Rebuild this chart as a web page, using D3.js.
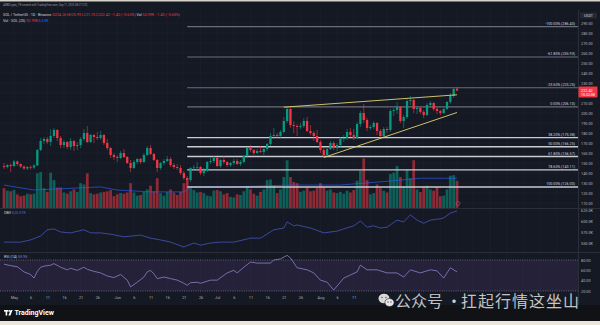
<!DOCTYPE html>
<html><head><meta charset="utf-8">
<script src="https://cdn.jsdelivr.net/npm/d3@7"></script>
<style>html,body{margin:0;padding:0;background:#141823;overflow:hidden}svg{display:block}</style>
</head><body><svg id="c" width="600" height="325"></svg>
<script>
// ---------- DATA ----------
const startDate = "2025-04-28";
const open  = [147,146,148,147,151.5,149,146.5,144.5,146,145.5,147.5,163,172,174,171,177,183,175,168,171,166,172,167,168,174,180,171,178,176,175,178,170,165,158,156,155,160,156,150,145,151,154,151,158,165,159,153,145,150,152,154,148,146,145,140,135,133,145,145.5,146,140,142,151,152,155,147,153,151,148,150,152,149,151,157,165,163,160,162,161,164,169,177,178,177,181,192,204,188,187,186,187,192,182,180,177,171,163,158,164,170,165,168,174,175,181,178,175,189,200,193,185,186,190,182,177,184,183,202,203,206,192,196,212,213,204,205,201,198,208,210,204,202,200,204,211,217,224.26];
const high  = [150,149,149.5,153,152.5,149.5,147.5,147,147.5,149,164,175,176,176,184,185,184,177,173,172,175,173,171,176,184,187,179,179,181,182,179,174,166,160,158,162,164,157,153,153,155,155,160,167,168,160,154,151,154,157,156,150,149,148,142,137,146,148,151,147,145,152,155,157,156,154,157,152,151,154,154,153,158,166,168,164,164,167,166,170,180,185,180,183,196,206,205,192,189,190,195,196,188,182,183,173,166,166,172,172,170,176,178,184,185,184,191,202,209,195,188,192,191,184,186,186,204,205,211,207,198,214,217,214,207,206,203,210,212,211,206,203,205,212,220,226,225.99];
const low   = [144,144.5,141,146,147,145,143,143,143.5,144,147,162,169,169,167,175,172,165,165,164,163,162,163,165,172,170,170,170,173,173,168,163,155,153,151,154,155,149,141,144,149,149,150,157,158,152,141,143,148,151,146,144,143,138,133,126,131,142,143,138,137,141,149,150,146,145,149,146,146,148,148,147,150,155,161,158,159,160,158,162,167,174,175,175,180,190,185,180,177,184,185,181,178,172,170,160,156,157,163,163,162,166,171,173,176,173,174,186,190,182,183,184,178,175,176,180,181,197,199,190,185,194,208,200,199,199,195,197,205,202,199,198,199,203,209,215,221.73];
const close = [146,148,147,151.5,149,146.5,144.5,146,145.5,147.5,163,172,174,171,177,183,175,168,171,166,172,167,168,174,180,171,178,176,175,178,170,165,158,156,155,160,156,150,145,151,154,151,158,165,159,153,145,150,152,154,148,146,145,140,135,133,145,145.5,146,140,142,151,152,155,147,153,151,148,150,152,149,151,157,165,163,160,162,161,164,169,177,178,177,181,192,204,188,187,186,187,192,182,180,177,171,163,158,164,170,165,168,174,175,181,178,175,189,200,193,185,186,190,182,177,184,183,202,203,206,192,196,212,213,204,205,201,198,208,210,204,202,200,204,211,217,224,222.42];
const volume = [3.2,2.8,2.7,2.9,2.2,1.9,2.0,2.3,2.2,2.3,5.6,5.8,3.2,2.6,5.7,4.5,3.3,3.3,2.5,2.3,2.7,3.0,2.6,4.0,3.8,5.6,2.4,2.2,2.3,2.5,2.6,2.7,2.9,1.9,2.2,2.4,2.3,2.5,4.0,2.5,2.0,2.1,2.6,3.0,3.6,2.7,4.8,2.4,2.0,2.6,3.0,2.5,2.1,2.6,4.0,4.5,3.2,2.9,2.5,2.6,2.4,2.0,1.9,2.8,2.9,2.7,2.2,2.4,1.8,1.7,2.2,2.1,2.7,3.5,3.0,2.3,2.0,2.6,3.0,4.5,4.6,3.6,2.4,3.0,5.0,7.7,5.0,4.2,4.0,2.6,2.8,3.3,2.7,2.8,3.2,4.0,3.4,2.8,3.0,2.5,2.4,2.6,2.3,2.8,2.5,2.9,4.4,6.0,8.0,4.5,2.2,2.4,3.8,3.2,2.8,2.5,5.5,5.7,6.8,5.0,3.5,6.2,4.8,7.7,3.0,2.6,3.4,3.6,3.0,2.8,3.4,1.9,2.0,3.0,5.2,5.3,4.4];
const volMADates  = ["2025-04-28","2025-05-07","2025-05-27","2025-06-01","2025-06-11","2025-06-21","2025-06-23","2025-07-05","2025-07-23","2025-08-07","2025-08-22","2025-08-31","2025-09-11"];
const volMAValues = [3.7,2.9,3.4,2.9,2.6,2.6,3.4,3.4,3.7,3.7,4.35,4.8,4.8];
const obvDates  = ["2025-04-28","2025-05-03","2025-05-06","2025-05-09","2025-05-11","2025-05-13","2025-05-15","2025-05-18","2025-05-22","2025-05-24","2025-05-27","2025-05-30","2025-06-03","2025-06-08","2025-06-11","2025-06-14","2025-06-17","2025-06-21","2025-06-24","2025-06-26","2025-06-29","2025-07-02","2025-07-06","2025-07-11","2025-07-14","2025-07-18","2025-07-21","2025-07-22","2025-07-24","2025-07-25","2025-07-29","2025-08-02","2025-08-06","2025-08-08","2025-08-11","2025-08-13","2025-08-15","2025-08-17","2025-08-19","2025-08-21","2025-08-24","2025-08-26","2025-08-28","2025-08-30","2025-09-01","2025-09-03","2025-09-06","2025-09-07","2025-09-09","2025-09-11"];
const obvValues = [552,552,557,566,580,582,575,573,580,573,573,570,564,568,561,557,552,541,550,545,550,552,552,561,561,580,584,598,589,591,584,573,577,582,589,600,586,589,584,586,602,598,614,602,595,602,605,607,618,623];
const rsiDates  = ["2025-04-28","2025-04-30","2025-05-02","2025-05-04","2025-05-06","2025-05-07","2025-05-08","2025-05-09","2025-05-10","2025-05-12","2025-05-13","2025-05-15","2025-05-17","2025-05-18","2025-05-20","2025-05-22","2025-05-23","2025-05-25","2025-05-27","2025-05-29","2025-05-31","2025-06-02","2025-06-04","2025-06-05","2025-06-07","2025-06-09","2025-06-10","2025-06-11","2025-06-12","2025-06-13","2025-06-15","2025-06-17","2025-06-19","2025-06-21","2025-06-22","2025-06-23","2025-06-25","2025-06-26","2025-06-29","2025-07-01","2025-07-04","2025-07-06","2025-07-07","2025-07-09","2025-07-11","2025-07-13","2025-07-17","2025-07-18","2025-07-20","2025-07-22","2025-07-23","2025-07-25","2025-07-28","2025-07-30","2025-08-01","2025-08-03","2025-08-05","2025-08-08","2025-08-10","2025-08-12","2025-08-13","2025-08-15","2025-08-18","2025-08-21","2025-08-24","2025-08-26","2025-08-28","2025-08-31","2025-09-03","2025-09-05","2025-09-07","2025-09-09","2025-09-11"];
const rsiValues = [72,69,67,57,52,45,58,66,68,70,73,66,61,64,60,66,62,58,55,49,46,52,41,28,37,47,57,60,53,44,47,44,41,35,31,36,37,35,41,41,55,60,55,66,76,74,74,80,82,89,84,65,61,55,41,37,22,45,51,57,70,61,61,55,55,47,61,55,61,59,45,65,57];
const fibRatios = ["-100.00%","-61.80%","-23.60%","0.00%","38.20%","50.00%","61.80%","78.60%","100.00%"];
const fibPrices = [286.40,255.93,225.25,206.10,175.38,166.25,156.57,143.11,126.00];
const fibStart = "2025-06-22";
const trendFrom = [["2025-07-21",205.8],["2025-08-02",155.5]];
const trendTo   = [["2025-09-11",218.2],["2025-09-11",200.5]];
// price grid levels and the labels visible on the price scale (220 sits under the last-price tag)
const gridPrices = [110,120,130,140,150,160,170,180,190,200,210,220,230,240,250,260,270,280,290];
const priceTicks = [110,120,130,140,150,160,170,180,190,200,210,230,240,250,260,270,280,290];
const obvTicks = [625,600,575,550];
const obvTickLabels = ["625.0K","600.0K","575.0K","550.0K"];
const rsiTicks = [80,60,40,20];
const gridDates = ["2025-05-01","2025-05-06","2025-05-11","2025-05-16","2025-05-21","2025-05-26","2025-06-01","2025-06-06","2025-06-11","2025-06-16","2025-06-21","2025-06-26","2025-07-01","2025-07-06","2025-07-11","2025-07-16","2025-07-21","2025-07-26","2025-08-01","2025-08-06","2025-08-11","2025-08-16","2025-08-21","2025-08-26","2025-09-01","2025-09-06","2025-09-11","2025-09-16","2025-09-21","2025-09-26","2025-10-01","2025-10-06","2025-10-11"];
const timeTickDates = ["2025-05-01","2025-05-06","2025-05-11","2025-05-16","2025-05-21","2025-05-26","2025-06-01","2025-06-06","2025-06-11","2025-06-16","2025-06-21","2025-06-26","2025-07-01","2025-07-06","2025-07-11","2025-07-16","2025-07-21","2025-07-26","2025-08-01","2025-08-06","2025-08-11"];
const timeTickLabels = ["May","6","11","16","21","26","Jun","6","11","16","21","26","Jul","6","11","16","21","26","Aug","6","11"];
const lastPrice = 222.42;

// ---------- DRAW ----------
const FONT = "Roboto, 'DejaVu Sans', sans-serif";
const svg = d3.select("#c");
const parse = d3.utcParse("%Y-%m-%d");
const t0 = parse(startDate);
const dates = open.map((_, i) => d3.utcDay.offset(t0, i));
const plotR = 578;

const x = d3.scaleUtc().domain([parse("2025-05-01"), parse("2025-09-11")]).range([14, 457]);
const yP = d3.scaleLinear().domain([110, 290]).range([203, 23]);
const yVol = d3.scaleLinear().domain([0, 10]).range([208, 146]);
const yObv = d3.scaleLinear().domain([550, 625]).range([243, 210]);
const yRsi = d3.scaleLinear().domain([20, 80]).range([291, 260]);

const UP = "#089981", DN = "#f23645";

// backgrounds
svg.append("rect").attr("width", 600).attr("height", 325).attr("fill", "#151924");
svg.append("rect").attr("y", 0).attr("width", 600).attr("height", 1.5).attr("fill", "#d6d2ca");
svg.append("rect").attr("y", 305).attr("width", 600).attr("height", 16).attr("fill", "#111215");
svg.append("rect").attr("y", 321).attr("width", 600).attr("height", 4).attr("fill", "#ebe5da");

const defs = svg.append("defs");
defs.append("clipPath").attr("id", "cp").append("rect").attr("x", 0).attr("y", 10).attr("width", plotR).attr("height", 198);
defs.append("clipPath").attr("id", "co").append("rect").attr("x", 0).attr("y", 209).attr("width", plotR).attr("height", 43);
defs.append("clipPath").attr("id", "cr").append("rect").attr("x", 0).attr("y", 253).attr("width", plotR).attr("height", 42);

// grid
const grid = svg.append("g").attr("stroke", "#1d2130").attr("stroke-width", 0.6);
gridDates.forEach(d => {
  const xx = x(parse(d));
  if (xx < plotR) grid.append("line").attr("x1", xx).attr("x2", xx).attr("y1", 10).attr("y2", 295);
});
gridPrices.forEach(p => grid.append("line").attr("x1", 0).attr("x2", plotR).attr("y1", yP(p)).attr("y2", yP(p)));

// pane separators
svg.append("line").attr("x1", 0).attr("x2", 600).attr("y1", 208.5).attr("y2", 208.5).attr("stroke", "#2a2e39").attr("stroke-width", 1);
svg.append("line").attr("x1", 0).attr("x2", 600).attr("y1", 252.5).attr("y2", 252.5).attr("stroke", "#2a2e39").attr("stroke-width", 1);
svg.append("line").attr("x1", plotR + 0.5).attr("x2", plotR + 0.5).attr("y1", 10).attr("y2", 305).attr("stroke", "#2a2e39").attr("stroke-width", 1);

// price pane
const gp = svg.append("g").attr("clip-path", "url(#cp)");
gp.append("g").selectAll("rect").data(dates).join("rect")
  .attr("x", d => x(d) - 1.4).attr("width", 2.8)
  .attr("y", (d, i) => yVol(volume[i])).attr("height", (d, i) => yVol(0) - yVol(volume[i]))
  .attr("fill", (d, i) => close[i] >= open[i] ? UP : DN).attr("opacity", 0.55);
gp.append("path").datum(volMADates.map((d, i) => [parse(d), volMAValues[i]]))
  .attr("d", d3.line().x(d => x(d[0])).y(d => yVol(d[1])))
  .attr("fill", "none").attr("stroke", "#2962ff").attr("stroke-width", 0.8).attr("opacity", 0.8);

// fib lines
const fx0 = x(parse(fibStart));
fibPrices.forEach((p, i) => {
  const lower = i >= 4;
  gp.append("line").attr("x1", fx0).attr("x2", plotR).attr("y1", yP(p)).attr("y2", yP(p))
    .attr("stroke", lower ? "#c9cbd1" : "#6b6e79").attr("stroke-width", lower ? 1.4 : 1.1);
  gp.append("text").attr("x", 575).attr("y", yP(p) - 1.8).attr("text-anchor", "end")
    .attr("font-family", FONT).attr("font-size", 3.7).attr("fill", "#d1d4dc")
    .text(fibRatios[i] + " (" + d3.format(".2f")(p) + ")");
});

// candles
const gc = gp.append("g");
dates.forEach((d, i) => {
  const col = close[i] >= open[i] ? UP : DN;
  const xx = x(d);
  gc.append("line").attr("x1", xx).attr("x2", xx).attr("y1", yP(high[i])).attr("y2", yP(low[i]))
    .attr("stroke", col).attr("stroke-width", 0.6);
  const top = yP(Math.max(open[i], close[i]));
  const h = Math.max(0.7, Math.abs(yP(open[i]) - yP(close[i])));
  gc.append("rect").attr("x", xx - 1.15).attr("width", 2.3).attr("y", top).attr("height", h).attr("fill", col);
});

// trendlines
trendFrom.forEach((a, i) => {
  const b = trendTo[i];
  gp.append("line").attr("x1", x(parse(a[0]))).attr("y1", yP(a[1]))
    .attr("x2", x(parse(b[0]))).attr("y2", yP(b[1]))
    .attr("stroke", "#e3d36c").attr("stroke-width", 0.9);
});
gp.append("circle").attr("cx", x(dates[dates.length - 1]) + 1).attr("cy", 203.5).attr("r", 2)
  .attr("fill", "none").attr("stroke", "#c2477a").attr("stroke-width", 0.6);

// OBV pane
svg.append("g").attr("clip-path", "url(#co)").append("path")
  .datum(obvDates.map((d, i) => [parse(d), obvValues[i]]))
  .attr("d", d3.line().x(d => x(d[0])).y(d => yObv(d[1])))
  .attr("fill", "none").attr("stroke", "#4556b8").attr("stroke-width", 0.8);

// RSI pane
const gr = svg.append("g").attr("clip-path", "url(#cr)");
gr.append("rect").attr("x", 0).attr("width", plotR).attr("y", yRsi(80)).attr("height", yRsi(20) - yRsi(80))
  .attr("fill", "#7e57c2").attr("opacity", 0.14);
[80, 20].forEach(v => gr.append("line").attr("x1", 0).attr("x2", plotR).attr("y1", yRsi(v)).attr("y2", yRsi(v))
  .attr("stroke", "#8a8d98").attr("stroke-width", 0.6).attr("stroke-dasharray", "1,1.3"));
gr.append("path").datum(rsiDates.map((d, i) => [parse(d), rsiValues[i]]))
  .attr("d", d3.line().x(d => x(d[0])).y(d => yRsi(d[1])))
  .attr("fill", "none").attr("stroke", "#8e82c6").attr("stroke-width", 0.8);

// axes
const axisStyle = g => {
  g.select(".domain").remove();
  g.selectAll("line").remove();
  g.selectAll("text").attr("font-family", FONT).attr("font-size", 3.8).attr("fill", "#b2b5be");
};
svg.append("g").attr("transform", "translate(581,0)")
  .call(d3.axisRight(yP).tickValues(priceTicks).tickFormat(d3.format(".2f")).tickSize(0).tickPadding(0))
  .call(axisStyle);
svg.append("g").attr("transform", "translate(581,0)")
  .call(d3.axisRight(yObv).tickValues(obvTicks).tickFormat((d, i) => obvTickLabels[i]).tickSize(0).tickPadding(0))
  .call(axisStyle);
svg.append("g").attr("transform", "translate(581,0)")
  .call(d3.axisRight(yRsi).tickValues(rsiTicks).tickFormat(d3.format(".2f")).tickSize(0).tickPadding(0))
  .call(axisStyle);
const xa = svg.append("g").attr("transform", "translate(0,297)")
  .call(d3.axisBottom(x).tickValues(timeTickDates.map(parse)).tickFormat((d, i) => timeTickLabels[i]).tickSize(0).tickPadding(0))
  .call(axisStyle);
xa.selectAll("text").attr("dy", "0.5em");

// USDT label
svg.append("rect").attr("x", 580).attr("y", 12.5).attr("width", 17).attr("height", 6).attr("fill", "#242833");
svg.append("text").attr("x", 588.5).attr("y", 17).attr("text-anchor", "middle").attr("font-family", FONT)
  .attr("font-size", 3.6).attr("fill", "#d1d4dc").text("USDT");

// last price box
const ly = yP(lastPrice);
svg.append("rect").attr("x", 578.5).attr("y", ly - 4).attr("width", 19).attr("height", 11).attr("fill", DN).attr("rx", 0.8);
svg.append("text").attr("x", 581).attr("y", ly + 1.3).attr("font-family", FONT).attr("font-size", 3.8).attr("fill", "#fff").text(d3.format(".2f")(lastPrice));
svg.append("text").attr("x", 581).attr("y", ly + 5.4).attr("font-family", FONT).attr("font-size", 3.6).attr("fill", "#fff").text("15:32:08");

// header + legends
const tx = (xx, yy, size, parts) => {
  const t = svg.append("text").attr("x", xx).attr("y", yy).attr("font-family", FONT).attr("font-size", size);
  parts.forEach(p => t.append("tspan").attr("fill", p[1]).text(p[0]));
  return t;
};
tx(3, 6.2, 2.7, [["AMBCrypto_TR created with TradingView.com, Sep 11, 2025 08:27 UTC", "#9598a1"]]);
tx(3, 15.8, 3.7, [["SOL / TetherUS · 1D · Binance  ", "#d1d4dc"], ["O224.26  H225.99  L221.73  C222.42  −1.40 (−0.63%)  ", DN], ["Vol ", "#d1d4dc"], ["55.99K  −1.40 (−0.63%)", DN]]);
tx(3, 21.6, 3.7, [["Vol · SOL (20)  ", "#d1d4dc"], ["92.99K  ", DN], ["6.63K", "#2962ff"]]);
tx(4, 213.8, 3.7, [["OBV  ", "#d1d4dc"], ["620.57K", "#4a6cf0"]]);
tx(4, 258.3, 3.7, [["RSI (14)  ", "#d1d4dc"], ["53.95", "#9c7fe0"]]);

// TradingView logo
const lg = svg.append("g").attr("fill", "#ffffff");
lg.append("rect").attr("x", 4).attr("y", 310).attr("width", 4.2).attr("height", 1.6);
lg.append("rect").attr("x", 5.6).attr("y", 310).attr("width", 1.6).attr("height", 5.5);
lg.append("circle").attr("cx", 9.3).attr("cy", 310.9).attr("r", 0.9);
lg.append("path").attr("d", "M10.6,310 L12.6,310 L10.4,315.5 L8.4,315.5 Z");
svg.append("text").attr("x", 14.5).attr("y", 315.3).attr("font-family", FONT).attr("font-weight", "bold")
  .attr("font-size", 7).attr("fill", "#ffffff").text("TradingView");

// WeChat watermark
const wm = svg.append("g");
wm.append("ellipse").attr("cx", 384).attr("cy", 298.5).attr("rx", 5.5).attr("ry", 4.8).attr("fill", "#d8d8d8");
wm.append("ellipse").attr("cx", 389.5).attr("cy", 302.5).attr("rx", 4.6).attr("ry", 4).attr("fill", "#e6e6e6").attr("stroke", "#1a1d26").attr("stroke-width", 0.6);
[[382, 297.5], [386, 297.5], [388, 302], [391, 302]].forEach(p =>
  wm.append("circle").attr("cx", p[0]).attr("cy", p[1]).attr("r", 0.7).attr("fill", "#555"));
const wmStyle = t => t.attr("font-family", "'Noto Sans CJK SC', sans-serif").attr("font-size", 16)
  .attr("fill", "#e4e4e4").attr("fill-opacity", 0.92).attr("stroke", "#000").attr("stroke-opacity", 0.25).attr("stroke-width", 0.4);
wmStyle(wm.append("text").attr("x", 395).attr("y", 307).text("公众号"));
wmStyle(wm.append("text").attr("x", 446).attr("y", 307).text("·"));
wmStyle(wm.append("text").attr("x", 461).attr("y", 307).attr("textLength", 118).attr("lengthAdjust", "spacing").text("扛起行情这坐山"));
</script>
</body></html>
